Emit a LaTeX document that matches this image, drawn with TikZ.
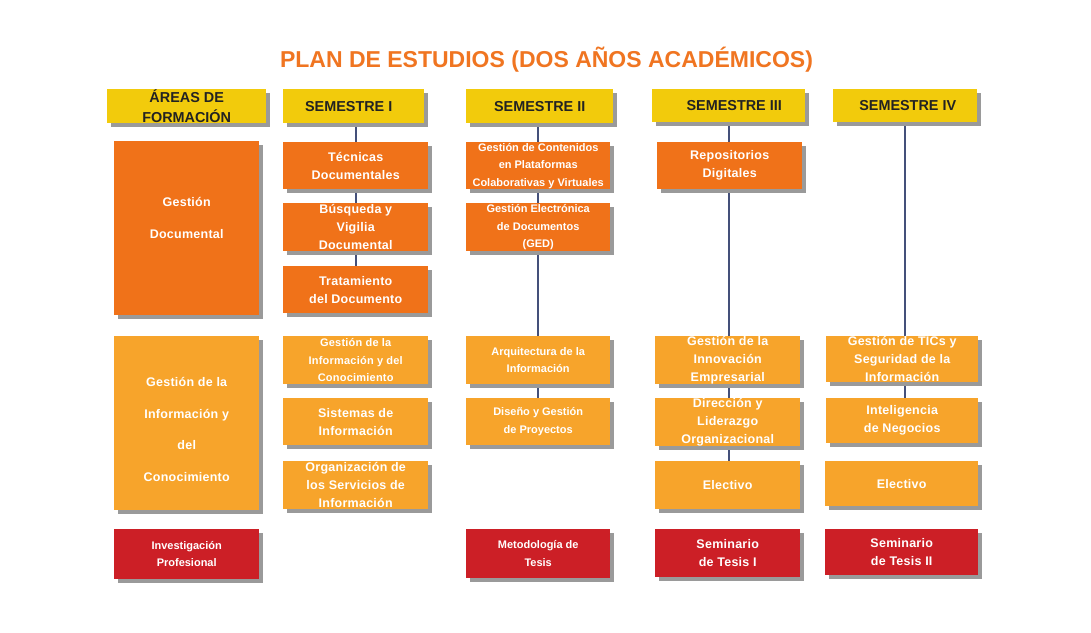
\documentclass[tikz,border=0pt]{standalone}
\usepackage{fontspec}
\setmainfont{Liberation Sans}
\newfontfamily\boxfont[LetterSpace=2]{Liberation Sans}
\usetikzlibrary{shadows,backgrounds}
\definecolor{headyellow}{HTML}{F2CB0C}
\definecolor{docorange}{HTML}{F07219}
\definecolor{infoorange}{HTML}{F7A42B}
\definecolor{thesisred}{HTML}{CC1F26}
\definecolor{titleorange}{HTML}{F07521}
\definecolor{linkblue}{HTML}{44507A}
\definecolor{shadowgray}{HTML}{9A9A9A}
\definecolor{headtext}{HTML}{222222}
\newcommand\bigtxt{\boxfont\bfseries\fontsize{12.5}{18}\selectfont}
\newcommand\smalltxt{\bfseries\fontsize{11}{17.5}\selectfont}

\tikzset{
  boxshadow/.style={drop shadow={shadow xshift=4pt,shadow yshift=-4pt,fill=shadowgray,opacity=1}},
  cell/.style 2 args={anchor=north west,inner sep=0pt,minimum width=#1pt,minimum height=#2pt,align=center,boxshadow},
  headbox/.style={fill=headyellow,text=headtext,font=\bfseries\fontsize{14.4}{20}\selectfont},
  docbox/.style={fill=docorange,text=white,font=\bigtxt},
  infobox/.style={fill=infoorange,text=white,font=\bigtxt},
  thesisbox/.style={fill=thesisred,text=white,font=\bigtxt},
  link/.style={draw=linkblue,line width=2pt}
}

\begin{document}
\begin{tikzpicture}[x=1pt,y=-1pt]
\useasboundingbox (0,0) rectangle (1091,632);

% title
\node[text=titleorange,font=\bfseries\fontsize{23}{28}\selectfont] (plan) at (546.5,60) {PLAN DE ESTUDIOS (DOS AÑOS ACADÉMICOS)};

% headers
\node[cell={159}{34},headbox] (areas) at (107,89) {ÁREAS DE\\FORMACIÓN};
\node[cell={141}{34},headbox] (h1) at (283,89) {SEMESTRE I\hspace*{10pt}};
\node[cell={147}{34},headbox] (h2) at (466,89) {SEMESTRE II};
\node[cell={153}{33},headbox] (h3) at (652,89) {\hspace*{11pt}SEMESTRE III};
\node[cell={144}{33},headbox] (h4) at (833,89) {\hspace*{5pt}SEMESTRE IV};

% gestion documental
\node[cell={145}{174},docbox] (gdoc) at (114,141) {};
\node[text=white,font=\boxfont\bfseries\fontsize{12.5}{32}\selectfont,align=center] (gdoctxt) at ([yshift=10pt]gdoc.center) {Gestión\\Documental};
\node[cell={145}{47},docbox] (tec) at (283,142) {Técnicas\\Documentales};
\node[cell={145}{48},docbox] (bus) at (283,203) {Búsqueda y\\Vigilia\\Documental};
\node[cell={145}{47},docbox] (tra) at (283,266) {Tratamiento\\del Documento};
\node[cell={144}{47},docbox,font=\smalltxt] (gdc) at (466,142) {Gestión de Contenidos\\en Plataformas\\Colaborativas y Virtuales};
\node[cell={144}{48},docbox,font=\smalltxt] (ged) at (466,203) {Gestión Electrónica\\de Documentos\\(GED)};
\node[cell={145}{47},docbox] (rep) at (657,142) {Repositorios\\Digitales};

% gestion de la informacion
\node[cell={145}{174},infobox] (ginf) at (114,336) {};
\node[text=white,font=\boxfont\bfseries\fontsize{12.5}{31.5}\selectfont,align=center] (ginftxt) at ([yshift=-6.5pt]ginf.center) {Gestión de la\\Información y\\del\\Conocimiento};
\node[cell={145}{48},infobox,font=\boxfont\smalltxt] (gic) at (283,336) {Gestión de la\\Información y del\\Conocimiento};
\node[cell={145}{47},infobox] (sis) at (283,398) {Sistemas de\\Información};
\node[cell={145}{48},infobox] (org) at (283,461) {Organización de\\los Servicios de\\Información};
\node[cell={144}{48},infobox,font=\smalltxt] (arq) at (466,336) {Arquitectura de la\\Información};
\node[cell={144}{47},infobox,font=\smalltxt] (dis) at (466,398) {Diseño y Gestión\\de Proyectos};
\node[cell={145}{48},infobox] (inn) at (655,336) {Gestión de la\\Innovación\\Empresarial};
\node[cell={145}{47},infobox] (dir) at (655,398) {Dirección y\\Liderazgo\\Organizacional};
\node[cell={145}{48},infobox] (ele3) at (655,461) {Electivo};
\node[cell={152}{46},infobox] (tic) at (826,336) {Gestión de TICs y\\Seguridad de la\\Información};
\node[cell={152}{45},infobox] (intel) at (826,398) {Inteligencia\\de Negocios};
\node[cell={153}{45},infobox] (ele4) at (825,461) {Electivo};

% investigacion
\node[cell={145}{50},thesisbox,font=\smalltxt] (inv) at (114,529) {Investigación\\Profesional};
\node[cell={144}{49},thesisbox,font=\smalltxt] (met) at (466,529) {Metodología de\\Tesis};
\node[cell={145}{48},thesisbox] (sem1) at (655,529) {Seminario\\de Tesis I};
\node[cell={153}{46},thesisbox] (sem2) at (825,529) {Seminario\\de Tesis II};

% connectors
\begin{scope}[on background layer]
\fill[white] (0,0) rectangle (1091,632);
\draw[link] (h1.south -| tec.north) -- (tec.north);
\draw[link] (tec.south) -- (bus.north);
\draw[link] (bus.south) -- (tra.north);
\draw[link] (h2.south -| gdc.north) -- (gdc.north);
\draw[link] (gdc.south) -- (ged.north);
\draw[link] (ged.south) -- (arq.north);
\draw[link] (arq.south) -- (dis.north);
\draw[link] (h3.south) -- (h3.south |- rep.north);
\draw[link] (rep.south -| h3.south) -- (h3.south |- inn.north);
\draw[link] (inn.south -| h3.south) -- (h3.south |- dir.north);
\draw[link] (dir.south -| h3.south) -- (h3.south |- ele3.north);
\draw[link] (h4.south) -- (h4.south |- tic.north);
\draw[link] (tic.south -| h4.south) -- (h4.south |- intel.north);
\end{scope}
\end{tikzpicture}
\end{document}
